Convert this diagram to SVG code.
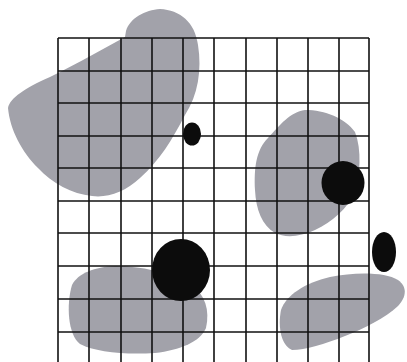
<svg xmlns="http://www.w3.org/2000/svg" width="407" height="362" viewBox="0 0 407 362">
<style>
.blob{fill:#a2a2aa}
.dot{fill:#0c0c0c}
.grid line{stroke:#111;stroke-width:1.6}
</style>
<rect width="407" height="362" fill="#fff"/>
<g id="blob-topleft"><path class="blob" d="M126,31 C130,18 145,10 160,9 C180,10 195,22 198,45 C202,70 198,95 185,115 C172,140 160,160 140,178 C125,192 108,198 92,196 C72,194 52,183 38,168 C22,152 10,130 8,108 C10,98 25,88 50,77 C80,62 105,48 125,37 Z"/></g>
<g id="blob-right"><path class="blob" d="M305,110 C325,110 345,118 355,132 C362,150 360,175 355,192 C348,208 332,222 315,230 C300,237 285,238 275,233 C262,225 256,210 255,190 C254,168 256,150 268,138 C280,125 290,112 305,110 Z"/></g>
<g id="blob-bottomleft"><path class="blob" d="M72,285 C78,273 95,267 115,266 C140,266 170,272 192,285 C205,295 210,310 206,328 C200,342 180,350 155,353 C125,355 95,352 80,344 C68,335 66,305 72,285 Z"/></g>
<g id="blob-bottomright"><path class="blob" d="M281,310 C286,295 305,283 330,277 C355,272 385,272 398,280 C408,287 406,298 398,306 C385,318 365,328 345,336 C325,344 305,350 292,350 C280,345 278,325 281,310 Z"/></g>
<g class="grid" id="grid">
<line x1="58" y1="38" x2="58" y2="362"/>
<line x1="89" y1="38" x2="89" y2="362"/>
<line x1="121" y1="38" x2="121" y2="362"/>
<line x1="152" y1="38" x2="152" y2="362"/>
<line x1="183" y1="38" x2="183" y2="362"/>
<line x1="214" y1="38" x2="214" y2="362"/>
<line x1="246" y1="38" x2="246" y2="362"/>
<line x1="277" y1="38" x2="277" y2="362"/>
<line x1="308" y1="38" x2="308" y2="362"/>
<line x1="339" y1="38" x2="339" y2="362"/>
<line x1="369" y1="38" x2="369" y2="362"/>
<line x1="58" y1="38" x2="369" y2="38"/>
<line x1="58" y1="71" x2="369" y2="71"/>
<line x1="58" y1="103" x2="369" y2="103"/>
<line x1="58" y1="136" x2="369" y2="136"/>
<line x1="58" y1="168" x2="369" y2="168"/>
<line x1="58" y1="201" x2="369" y2="201"/>
<line x1="58" y1="233" x2="369" y2="233"/>
<line x1="58" y1="266" x2="369" y2="266"/>
<line x1="58" y1="299" x2="369" y2="299"/>
<line x1="58" y1="332" x2="369" y2="332"/>
</g>
<g id="dot-small"><ellipse class="dot" cx="192" cy="134" rx="9" ry="11.5"/></g>
<g id="dot-right"><ellipse class="dot" cx="343" cy="183" rx="21.5" ry="22"/></g>
<g id="dot-edge"><ellipse class="dot" cx="384" cy="252" rx="12" ry="20"/></g>
<g id="dot-big"><ellipse class="dot" cx="181" cy="270" rx="29" ry="31"/></g>
</svg>
